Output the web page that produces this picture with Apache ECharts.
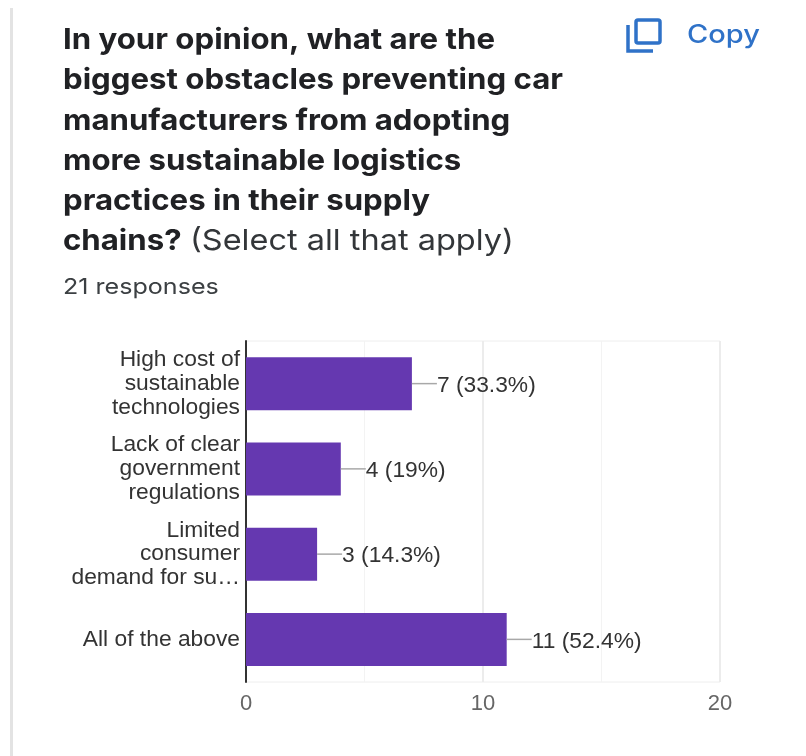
<!DOCTYPE html>
<html>
<head>
<meta charset="utf-8">
<style>html,body{margin:0;padding:0;background:#fff}#chart{width:806px;height:756px}</style>
<script src="https://cdn.jsdelivr.net/npm/echarts@6/dist/echarts.min.js"></script>
</head>
<body>
<div id="chart"></div>
<script>
const categories = [
  'High cost of\nsustainable\ntechnologies',
  'Lack of clear\ngovernment\nregulations',
  'Limited\nconsumer\ndemand for su…',
  'All of the above'
];
const counts = [7, 4, 3, 11];
const percentLabels = ['33.3%', '19%', '14.3%', '52.4%'];
const xTicks = [0, 10, 20];
const minorTicks = [5, 15];
const questionLines = [
  'In your opinion, what are the',
  'biggest obstacles preventing car',
  'manufacturers from adopting',
  'more sustainable logistics',
  'practices in their supply'
];

const FONT = '"Liberation Sans", Arimo, sans-serif';
const HEAD_FONT = 'Inter, "Noto Sans", sans-serif';
const chart = echarts.init(document.getElementById('chart'));

// Widened text element placed by its top-left corner
const wideText = (text, x, y, font, fill, scaleX) => ({
  type: 'text', x, y, scaleX,
  style: { text, font, fill, textVerticalAlign: 'top', verticalAlign: 'top' }
});

// Question heading, one text element per line
const heading = questionLines.map((line, i) =>
  wideText(line, 63, 26 + i * 40.2, 'bold 29px ' + HEAD_FONT, '#202124', 1.075));

// Vertical gridline spanning the plot at a given axis value
const gridLine = (color, width) => (params, api) => {
  const x = api.coord([api.value(0), 0])[0];
  const c = params.coordSys;
  return { type: 'line', shape: { x1: x, y1: c.y, x2: x, y2: c.y + c.height },
           style: { stroke: color, lineWidth: width } };
};

chart.setOption({
  animation: false,
  backgroundColor: '#fff',
  grid: { left: 246, top: 341, width: 474, height: 341, containLabel: false,
          show: true, borderColor: '#eeeeee', borderWidth: 1 },
  xAxis: {
    type: 'value', min: 0, max: 20, interval: 10,
    axisLine: { show: false }, axisTick: { show: false },
    splitLine: { show: false },
    axisLabel: { color: '#666', fontSize: 22, fontFamily: FONT, margin: 11 }
  },
  yAxis: {
    type: 'category', inverse: true, data: categories,
    axisLine: { lineStyle: { color: '#333', width: 2 } },
    axisTick: { show: false },
    splitLine: { show: false },
    axisLabel: { color: '#333', fontSize: 22.8, lineHeight: 23.7, fontFamily: FONT, margin: 6, align: 'right', padding: [10, 0, 0, 0] }
  },
  series: [
    {
      type: 'custom', silent: true, z: 0,
      data: xTicks, encode: { x: 0 },
      renderItem: gridLine('#ececec', 2)
    },
    {
      type: 'custom', silent: true, z: 0,
      data: minorTicks, encode: { x: 0 },
      renderItem: gridLine('#f3f3f3', 1)
    },
    {
      type: 'bar', barWidth: 53, z: 2,
      data: counts,
      itemStyle: { color: '#6538b0' },
      label: {
        show: true, position: 'right', distance: 25,
        color: '#333', fontSize: 22.8, fontFamily: FONT, offset: [0, 2],
        formatter: p => p.value + ' (' + percentLabels[p.dataIndex] + ')'
      }
    },
    {
      // Short leader from each bar end to its label
      type: 'custom', silent: true, z: 3,
      data: counts.map((v, i) => [v, i]),
      encode: { x: 0, y: 1 },
      renderItem(params, api) {
        const p = api.coord([api.value(0), api.value(1)]);
        return { type: 'line', shape: { x1: p[0], y1: p[1], x2: p[0] + 25, y2: p[1] },
                 style: { stroke: '#a8a8a8', lineWidth: 1.5 } };
      }
    }
  ],
  graphic: [
    // Page edge on the left
    { type: 'rect', shape: { x: 10, y: 8, width: 3, height: 748 }, style: { fill: '#e3e3e3' } },
    ...heading,
    wideText('chains?', 63, 227, 'bold 29px ' + HEAD_FONT, '#202124', 1.075),
    wideText('(Select all that apply)', 190, 227, '29px ' + HEAD_FONT, '#333639', 1.12),
    wideText('21 responses', 63, 276, '22px ' + HEAD_FONT, '#3c4043', 1.14),
    // Copy icon
    { type: 'rect', shape: { x: 636, y: 20, width: 24, height: 23, r: 2 },
      style: { fill: 'none', stroke: '#2f72c8', lineWidth: 3.5 } },
    { type: 'polyline', shape: { points: [[628, 25], [628, 51], [653, 51]] },
      style: { fill: 'none', stroke: '#2f72c8', lineWidth: 3.5 } },
    wideText('Copy', 687, 23, '500 25px ' + HEAD_FONT, '#2f72c8', 1.16)
  ]
});
</script>
</body>
</html>
